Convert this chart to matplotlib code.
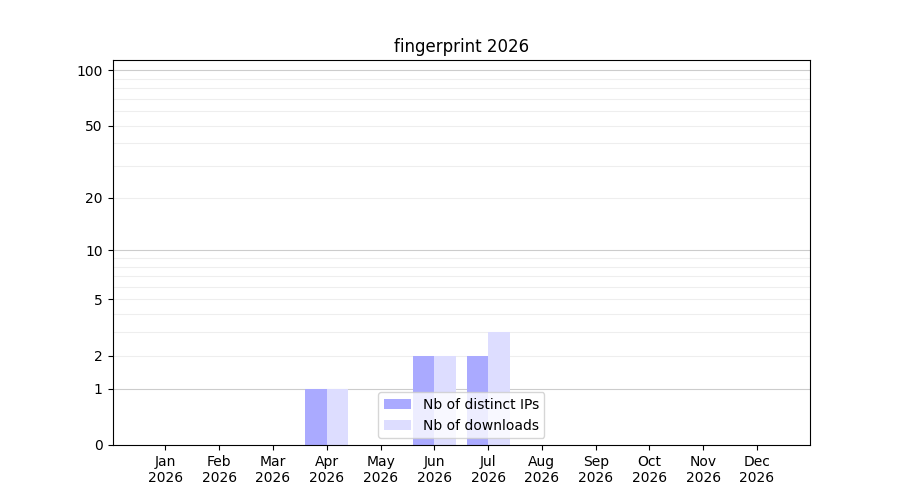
import matplotlib
matplotlib.use("Agg")
import matplotlib.pyplot as plt
import numpy as np
from matplotlib.ticker import FixedLocator, FixedFormatter

months = ['Jan', 'Feb', 'Mar', 'Apr', 'May', 'Jun',
          'Jul', 'Aug', 'Sep', 'Oct', 'Nov', 'Dec']
year = 2026
distinct_ips = [0, 0, 0, 1, 0, 2, 2, 0, 0, 0, 0, 0]
downloads = [0, 0, 0, 1, 0, 2, 3, 0, 0, 0, 0, 0]

major_ticks = [0, 1, 2, 5, 10, 20, 50, 100]
major_grid = [1, 10, 100]
minor_grid = [2, 3, 4, 5, 6, 7, 8, 9, 20, 30, 40, 50, 60, 70, 80, 90]


def fwd(v):
    return np.log10(1 + np.clip(v, 0, None))


def inv(v):
    return 10 ** v - 1


fig, ax = plt.subplots(figsize=(9, 5), dpi=100)

x = np.arange(len(months))
width = 0.4
ax.bar(x - width / 2, distinct_ips, width, color='#aaaaff', label='Nb of distinct IPs')
ax.bar(x + width / 2, downloads, width, color='#ddddff', label='Nb of downloads')

ax.set_yscale('function', functions=(fwd, inv))
ax.set_ylim(0, 113.5)
ax.set_xlim(-0.985, 11.985)

# grid lines drawn by hand so the major/minor shades match
for g in minor_grid:
    ax.axhline(g, color='#eeeeee', linewidth=0.8, zorder=0)
for g in major_grid:
    ax.axhline(g, color='#cccccc', linewidth=0.8, zorder=0)

ax.yaxis.set_major_locator(FixedLocator(major_ticks))
ax.yaxis.set_major_formatter(FixedFormatter([str(t) for t in major_ticks]))
ax.yaxis.set_minor_locator(FixedLocator([]))

ax.set_xticks(x)
ax.set_xticklabels([f'{m}\n{year}' for m in months])

ax.set_title(f'fingerprint {year}')
ax.legend(loc='lower center')

plt.savefig('out.png', dpi=100)
